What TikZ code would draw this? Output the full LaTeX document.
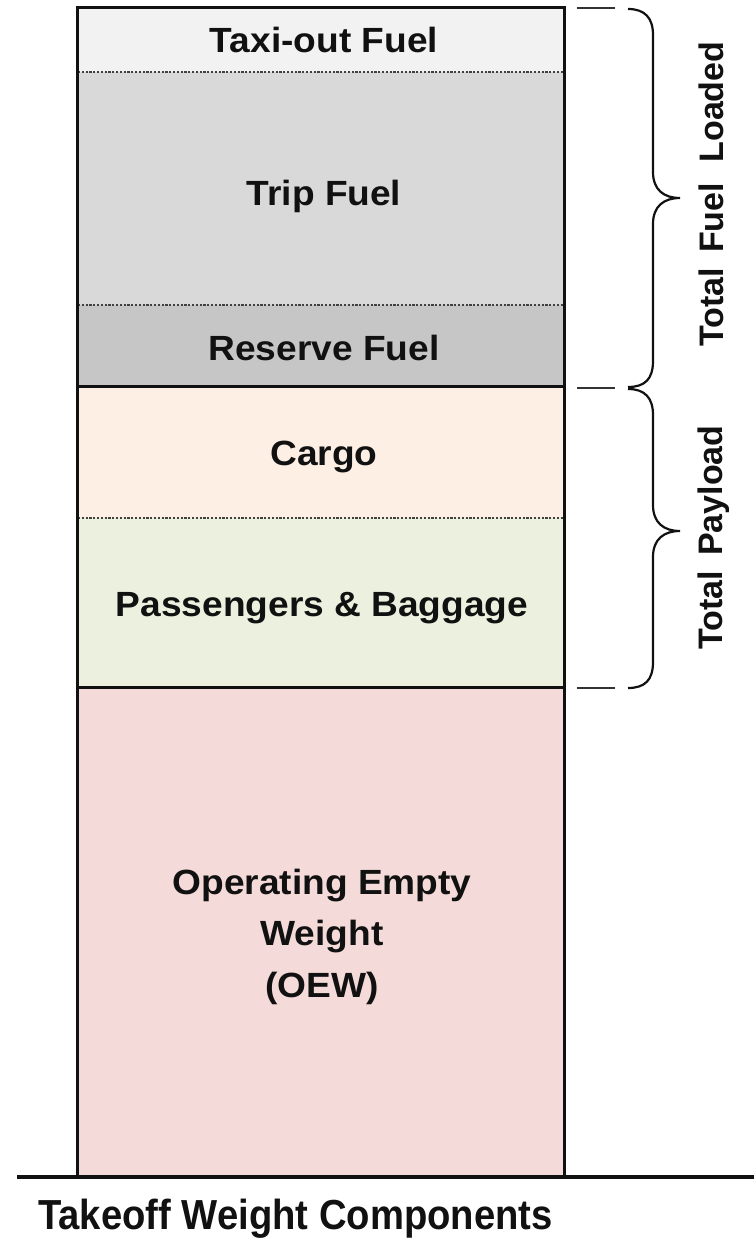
\documentclass[tikz,border=0pt]{standalone}
\usepackage{fontspec}
\setmainfont{Liberation Sans}
\definecolor{taxic}{HTML}{F2F2F2}
\definecolor{tripc}{HTML}{D9D9D9}
\definecolor{resc}{HTML}{C6C6C6}
\definecolor{cargoc}{HTML}{FDEFE4}
\definecolor{passc}{HTML}{EBF1DE}
\definecolor{oewc}{HTML}{F4DAD8}
\definecolor{inkc}{HTML}{111111}
\newcommand{\wl}[1]{\scalebox{1.06}[1]{#1}}
\begin{document}
\begin{tikzpicture}[x=1pt,y=-1pt,
  lbl/.style={font=\fontsize{35}{42}\selectfont\bfseries, text=inkc, anchor=base, inner sep=0pt},
  side/.style={font=\fontsize{34}{42}\selectfont\bfseries, text=inkc, anchor=base west, inner sep=0pt, rotate=90},
  dotline/.style={draw=black!75, line width=1.3pt, dash pattern=on 2.2pt off 1.6pt},
  solidline/.style={draw=inkc, line width=3pt},
  tick/.style={draw=black!80, line width=2.5pt},
  bracec/.style={draw=inkc, line width=2.2pt}]
\useasboundingbox (0,0) rectangle (754,1242);
\fill[white] (0,0) rectangle (754,1242);
% segments
\fill[taxic]  (77,7) rectangle (564,72);
\fill[tripc]  (77,72) rectangle (564,305);
\fill[resc]   (77,305) rectangle (564,386);
\fill[cargoc] (77,386) rectangle (564,518);
\fill[passc]  (77,518) rectangle (564,687);
\fill[oewc]   (77,687) rectangle (564,1177);
% dotted dividers
\draw[dotline] (78,72) -- (563,72);
\draw[dotline] (78,305) -- (563,305);
\draw[dotline] (78,518) -- (563,518);
% solid dividers
\draw[solidline] (77,386) -- (564,386);
\draw[solidline] (77,687) -- (564,687);
% outline
\draw[solidline] (77,1177) -- (77,7) -- (564,7) -- (564,1177);
% ground line
\draw[draw=inkc, line width=3.5pt] (17,1177) -- (754,1177);
% labels
\node[lbl] (taxi) at (324,52) {\wl{Taxi-out Fuel}};
\node[lbl] (trip) at (324,205) {\wl{Trip Fuel}};
\node[lbl] (res) at (324,360) {\wl{Reserve Fuel}};
\node[lbl] (cargo) at (324,465) {\wl{Cargo}};
\node[lbl] (pass) at (322,616) {\wl{Passengers \& Baggage}};
\node[lbl] (oew1) at (322,894) {\wl{Operating Empty}};
\node[lbl] (oew2) at (322,945) {\wl{Weight}};
\node[lbl] (oew3) at (322,997) {\wl{(OEW)}};
% title
\node[font=\fontsize{42}{50}\selectfont\bfseries, text=inkc, anchor=base west, inner sep=0pt] (title) at (38,1229) {\scalebox{0.91}[1]{Takeoff Weight Components}};
% ticks
\draw[tick] (577,8) -- (615,8);
\draw[tick] (577,388) -- (615,388);
\draw[tick] (577,688) -- (615,688);
% braces
\coordinate (fa) at (628,9);
\coordinate (ft) at (680,198);
\coordinate (fb) at (628,387);
\draw[bracec] (fa) .. controls (645,9) and (653,18) .. (653,35)
  -- (653,172) .. controls (653,190) and (664,198) .. (ft)
  .. controls (664,198) and (653,206) .. (653,224)
  -- (653,361) .. controls (653,379) and (645,387) .. (fb);
\coordinate (pa) at (628,389);
\coordinate (pt) at (680,531);
\coordinate (pb) at (628,688);
\draw[bracec] (pa) .. controls (645,389) and (653,398) .. (653,415)
  -- (653,505) .. controls (653,523) and (664,531) .. (pt)
  .. controls (664,531) and (653,539) .. (653,557)
  -- (653,662) .. controls (653,680) and (645,688) .. (pb);
% side labels
\node[side] (fuel) at (723,347) {Total\hspace{0.45em}Fuel\hspace{0.6em}Loaded};
\node[side] (payload) at (722,650) {Total\hspace{0.45em}Payload};
\end{tikzpicture}
\end{document}
